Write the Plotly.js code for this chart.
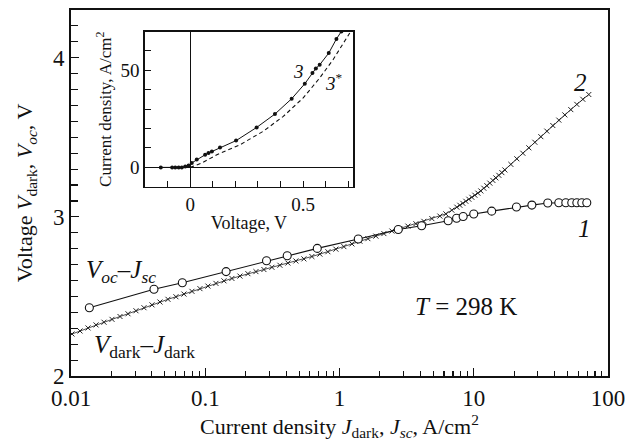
<!DOCTYPE html>
<html>
<head>
<meta charset="utf-8">
<script src="https://cdn.plot.ly/plotly-3.0.1.min.js"></script>
<style>html,body{margin:0;padding:0;background:#fff;}#chart{width:630px;height:445px;}</style>
</head>
<body>
<div id="chart"></div>
<script>
// Curve 1: Voc - Jsc (open circles)
const jsc = [0.0137, 0.0415, 0.0675, 0.143, 0.286, 0.408, 0.683, 1.38, 2.74, 4.09, 6.45, 7.45, 8.34, 10.0, 13.6, 20.8, 27.1, 35.6, 43.0, 48.5, 53.7, 58.6, 63.8, 69.5];
const voc = [2.429, 2.545, 2.586, 2.656, 2.724, 2.756, 2.802, 2.861, 2.921, 2.944, 2.976, 2.991, 3.002, 3.018, 3.036, 3.062, 3.074, 3.087, 3.089, 3.089, 3.089, 3.089, 3.089, 3.089];
// Curve 2: Vdark - Jdark (crosses)
const jdark = [0.01017, 0.01167, 0.01339, 0.01536, 0.01761, 0.0202, 0.02317, 0.02658, 0.03048, 0.03496,
  0.0401, 0.04599, 0.05275, 0.0605, 0.06939, 0.07959, 0.0913, 0.1047, 0.1201, 0.1378,
  0.158, 0.1813, 0.2079, 0.2385, 0.2735, 0.3137, 0.3598, 0.4127, 0.4734, 0.543,
  0.6228, 0.7144, 0.8194, 0.9401, 1.078, 1.237, 1.419, 1.627, 1.867, 2.141,
  2.456, 2.817, 3.231, 3.706, 4.251, 4.876, 5.593, 6.198, 6.869, 7.483,
  7.878, 8.293, 8.731, 9.192, 9.679, 10.19, 10.73, 11.29, 11.89, 12.52,
  13.18, 13.88, 14.61, 15.38, 16.2, 17.05, 18.89, 20.94, 23.21, 25.72,
  28.51, 31.6, 35.02, 38.81, 43.02, 47.68, 52.84, 58.56, 64.91, 71.94];
const vdark = [2.264, 2.283, 2.302, 2.321, 2.338, 2.356, 2.374, 2.391, 2.410, 2.429,
  2.447, 2.465, 2.482, 2.498, 2.515, 2.532, 2.549, 2.565, 2.582, 2.598,
  2.613, 2.628, 2.643, 2.656, 2.669, 2.683, 2.696, 2.710, 2.723, 2.736,
  2.751, 2.766, 2.781, 2.797, 2.813, 2.830, 2.847, 2.863, 2.879, 2.895,
  2.911, 2.927, 2.942, 2.957, 2.972, 2.989, 3.005, 3.019, 3.042, 3.061,
  3.073, 3.085, 3.098, 3.111, 3.123, 3.136, 3.149, 3.163, 3.180, 3.196,
  3.212, 3.229, 3.245, 3.261, 3.278, 3.295, 3.330, 3.365, 3.400, 3.434,
  3.469, 3.504, 3.539, 3.574, 3.608, 3.641, 3.674, 3.707, 3.739, 3.769];
// Inset: curve 3 (solid with dots) and 3* (dashed)
const v3 = [-0.13, -0.08, -0.066, -0.051, -0.037, -0.022, -0.007, 0.007, 0.029, 0.066, 0.081, 0.096, 0.132, 0.203, 0.294, 0.375, 0.449, 0.507, 0.541, 0.556, 0.573, 0.613, 0.647, 0.669];
const j3 = [0, 0, 0, 0, 0, 0.5, 1.0, 2.3, 4.0, 6.5, 7.4, 8.2, 10.3, 13.8, 20.6, 27.5, 35.4, 43.1, 48.6, 51.0, 52.9, 58.9, 66.2, 70.1];
const v3s = [0, 0.052, 0.118, 0.221, 0.323, 0.412, 0.5, 0.573, 0.632, 0.706];
const j3s = [0, 2.3, 6.5, 11.7, 18.6, 26.3, 35.8, 46.1, 55.5, 69.3];
// Tick labels
const xTickVals = [0.01, 0.1, 1, 10, 100];
const xTickText = ["0.01", "0.1", "1", "10", "100"];
const yTickVals = [2, 3, 4];
const insetXTicks = [0, 0.5];
const insetXText = ["0", "0.5"];
const insetYTicks = [0, 50];

const serif = "Liberation Serif, Times New Roman, serif";
const ink = '#111';

const traces = [
  {x: jdark, y: vdark, type: 'scatter', mode: 'lines+markers', xaxis: 'x', yaxis: 'y',
   line: {color: '#222', width: 0.8},
   marker: {symbol: 'x-thin-open', size: 5, color: '#222', line: {color: '#222', width: 1}}},
  {x: jsc, y: voc, type: 'scatter', mode: 'lines+markers', xaxis: 'x', yaxis: 'y',
   line: {color: ink, width: 1.1},
   marker: {symbol: 'circle', size: 8, color: '#fff', line: {color: ink, width: 1.1}}},
  {x: v3, y: j3, type: 'scatter', mode: 'lines+markers', xaxis: 'x2', yaxis: 'y2',
   line: {color: ink, width: 1},
   marker: {symbol: 'circle', size: 4, color: ink}},
  {x: v3s, y: j3s, type: 'scatter', mode: 'lines', xaxis: 'x2', yaxis: 'y2',
   line: {color: ink, width: 1.1, dash: '4px,3px'}}
];

function ann(px, py, text, size, xa) {
  return {xref: 'paper', yref: 'paper', x: (px - 71) / 537, y: (376 - py) / 366,
    xanchor: xa || 'center', yanchor: 'middle', text: text, showarrow: false,
    font: {family: serif, size: size, color: ink}};
}

const layout = {
  width: 630, height: 445,
  margin: {l: 71, r: 22, t: 10, b: 69},
  paper_bgcolor: '#fff', plot_bgcolor: '#fff',
  showlegend: false,
  font: {family: serif, color: ink, size: 22},
  xaxis: {
    type: 'log', range: [-2, 2], domain: [0, 1],
    tickvals: xTickVals, ticktext: xTickText,
    ticks: 'inside', ticklen: 8, tickwidth: 1.2, tickcolor: ink,
    minor: {ticks: 'inside', ticklen: 5, tickwidth: 1.1, tickcolor: ink, dtick: 'D1'},
    showline: true, linecolor: ink, linewidth: 2, mirror: true,
    showgrid: false, zeroline: false,
    tickfont: {family: serif, size: 23, color: ink},
    title: {text: 'Current density <i>J</i><sub>dark</sub>, <i>J<sub>sc</sub></i>, A/cm<sup>2</sup>', font: {family: serif, size: 22, color: ink}, standoff: 4}
  },
  yaxis: {
    range: [2, 4.3], domain: [0, 1],
    tickvals: yTickVals,
    ticks: 'inside', ticklen: 8, tickwidth: 1.2, tickcolor: ink,
    minor: {ticks: 'inside', ticklen: 7, tickwidth: 1.1, tickcolor: ink, dtick: 0.1},
    showline: true, linecolor: ink, linewidth: 2, mirror: true,
    showgrid: false, zeroline: false,
    tickfont: {family: serif, size: 23, color: ink},
    title: {text: 'Voltage <i>V</i><sub>dark</sub>, <i>V<sub>oc</sub></i>, V', font: {family: serif, size: 22, color: ink}, standoff: 14}
  },
  xaxis2: {
    anchor: 'y2', range: [-0.2, 0.72], domain: [0.1378, 0.525],
    tickvals: insetXTicks, ticktext: insetXText,
    ticks: 'inside', ticklen: 6, tickwidth: 1, tickcolor: ink,
    minor: {ticks: 'inside', ticklen: 6, tickwidth: 1, tickcolor: ink, dtick: 0.1},
    showline: true, linecolor: ink, linewidth: 1.6, mirror: true,
    showgrid: false, zeroline: true, zerolinecolor: ink, zerolinewidth: 1,
    tickfont: {family: serif, size: 19, color: ink},
    title: {text: 'Voltage, V', font: {family: serif, size: 18, color: ink}, standoff: 2}
  },
  yaxis2: {
    anchor: 'x2', range: [-10, 70], domain: [0.517, 0.941],
    tickvals: insetYTicks,
    ticks: 'inside', ticklen: 6, tickwidth: 1, tickcolor: ink,
    minor: {ticks: 'inside', ticklen: 6, tickwidth: 1, tickcolor: ink, dtick: 10},
    showline: true, linecolor: ink, linewidth: 1.6, mirror: true,
    showgrid: false, zeroline: true, zerolinecolor: ink, zerolinewidth: 1,
    tickfont: {family: serif, size: 19, color: ink},
    title: {text: 'Current density, A/cm<sup>2</sup>', font: {family: serif, size: 17, color: ink}, standoff: 4}
  },
  annotations: [
    ann(580, 82, '<i>2</i>', 25),
    ann(584, 228, '<i>1</i>', 25),
    ann(84, 271, '<i>V<sub>oc</sub></i>–<i>J<sub>sc</sub></i>', 25, 'left'),
    ann(92, 346, '<i>V</i><sub>dark</sub>–<i>J</i><sub>dark</sub>', 25, 'left'),
    ann(466, 306, '<i>T</i> = 298 K', 25),
    ann(298, 72, '<i>3</i>', 19),
    ann(334, 82, '<i>3</i><sup>*</sup>', 19)
  ]
};

Plotly.newPlot('chart', traces, layout, {displayModeBar: false, staticPlot: true});
</script>
</body>
</html>
